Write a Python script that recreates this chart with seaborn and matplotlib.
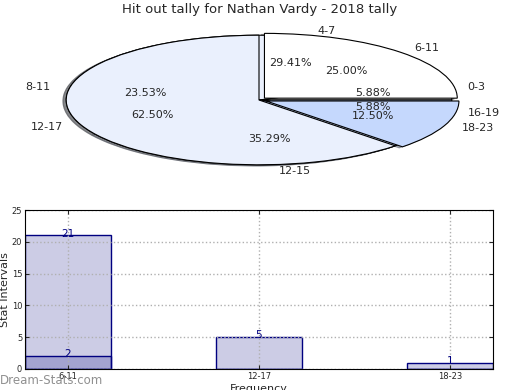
import numpy as np
import matplotlib
matplotlib.use("Agg")
import matplotlib.pyplot as plt
import seaborn as sns
import pandas as pd

# outer tally pie
pie_a_labels = ["0-3", "4-7", "8-11", "12-15", "16-19"]
pie_a_values = [1, 5, 4, 6, 1]
# grouped tally pie
pie_b_labels = ["6-11", "12-17", "18-23"]
pie_b_values = [2, 5, 1]

# bar chart
bar_cats = ["6-11", "12-17", "18-23"]
bar_first = [21, 0, 0]
bar_second = [2, 5, 1]

sns.set_style("ticks", {"xtick.direction": "in", "ytick.direction": "in"})
plt.rcParams["font.family"] = ["DejaVu Sans"]

fig = plt.figure(figsize=(5.2, 3.9), dpi=100)

# ---- pie chart ----
ax1 = fig.add_axes([18 / 520, 1 - 181 / 390, 482 / 520, 162 / 390])
pie_a_colors = ["white", "#eaf0fd", "#eaf0fd", "#c5d8fd", "#c5d8fd"]
pie_b_colors = ["white", "#eaf0fd", "#c5d8fd"]
shadow = {"ox": -0.012, "oy": -0.012, "shade": 0.6}
ax1.pie(pie_a_values, labels=pie_a_labels, colors=pie_a_colors, autopct="%.2f%%",
        startangle=0, shadow=shadow, wedgeprops={"edgecolor": "black", "linewidth": 0.8},
        textprops={"fontsize": 8})
ax1.pie(pie_b_values, labels=pie_b_labels, colors=pie_b_colors, autopct="%.2f%%",
        startangle=0, explode=[0.04, 0, 0.04], shadow=shadow,
        wedgeprops={"edgecolor": "black", "linewidth": 0.8},
        textprops={"fontsize": 8})
ax1.set_aspect("auto")
ax1.set_xlim(-1.25, 1.25)
ax1.set_ylim(-1.25, 1.25)
fig.text(0.5, 1 - 10 / 390, "Hit out tally for Nathan Vardy - 2018 tally",
         ha="center", va="center", fontsize=9.5)

# ---- bar chart ----
ax2 = fig.add_axes([25 / 520, 1 - 369 / 390, 468 / 520, 159 / 390])
df1 = pd.DataFrame({"cat": bar_cats, "val": bar_first})
df2 = pd.DataFrame({"cat": bar_cats, "val": bar_second})
for df in (df1, df2):
    sns.barplot(data=df, x="cat", y="val", order=bar_cats, width=0.45, color="navy",
                saturation=1, edgecolor="navy", linewidth=1, ax=ax2)
for p in ax2.patches:
    p.set_facecolor((0, 0, 0.5, 0.2))
    p.set_edgecolor("navy")
for vals in (bar_first, bar_second):
    for i, v in enumerate(vals):
        if v > 0:
            ax2.text(i, v + 0.3, str(v), ha="center", va="center", color="navy", fontsize=7.5)

ax2.set_xlim(-0.225, 2.225)
ax2.set_ylim(0, 25)
ax2.set_yticks(np.arange(0, 26, 5))
ax2.grid(True, linestyle=":", color="#b0b0b0", linewidth=1)
ax2.set_axisbelow(False)
for s in ax2.spines.values():
    s.set_visible(True)
    s.set_color("black")
    s.set_zorder(4)
ax2.tick_params(labelsize=6, length=3, top=True, right=True, pad=2)
ax2.set_xlabel("Frequency", fontsize=8, labelpad=2)
ax2.set_ylabel("Stat Intervals", fontsize=8, labelpad=1)
fig.text(0.0, 1 - 380 / 390, "Dream-Stats.com", fontsize=8.5, color="#909090",
         ha="left", va="center")

fig.savefig("out.png", dpi=100)
